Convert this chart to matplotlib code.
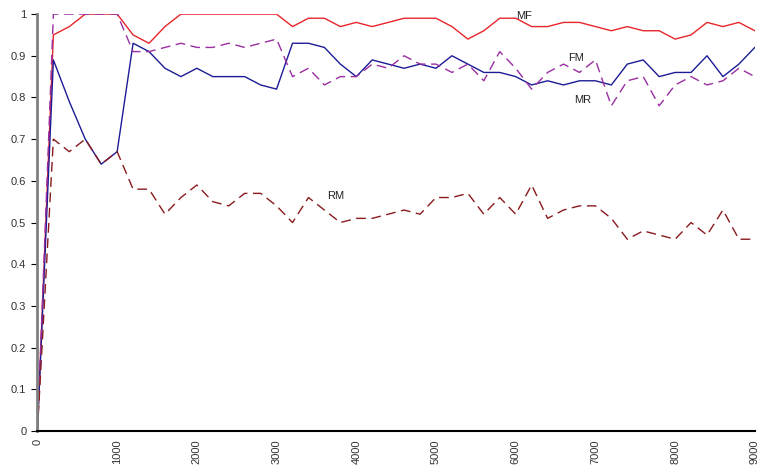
import matplotlib
matplotlib.use('Agg')
import matplotlib.pyplot as plt
import numpy as np

# x values: 0..9000 step 200
x = list(range(0, 9001, 200))

mf = [0, 0.95, 0.97, 1, 1, 1, 0.95, 0.93, 0.97, 1,
      1, 1, 1, 1, 1, 1, 0.97, 0.99, 0.99, 0.97,
      0.98, 0.97, 0.98, 0.99, 0.99, 0.99, 0.97, 0.94, 0.96, 0.99,
      0.99, 0.97, 0.97, 0.98, 0.98, 0.97, 0.96, 0.97, 0.96, 0.96,
      0.94, 0.95, 0.98, 0.97, 0.98, 0.96]
mr = [0, 0.89, 0.79, 0.70, 0.64, 0.67, 0.93, 0.91, 0.87, 0.85,
      0.87, 0.85, 0.85, 0.85, 0.83, 0.82, 0.93, 0.93, 0.92, 0.88,
      0.85, 0.89, 0.88, 0.87, 0.88, 0.87, 0.90, 0.88, 0.86, 0.86,
      0.85, 0.83, 0.84, 0.83, 0.84, 0.84, 0.83, 0.88, 0.89, 0.85,
      0.86, 0.86, 0.90, 0.85, 0.88, 0.92]
fm = [0, 1, 1, 1, 1, 1, 0.91, 0.91, 0.92, 0.93,
      0.92, 0.92, 0.93, 0.92, 0.93, 0.94, 0.85, 0.87, 0.83, 0.85,
      0.85, 0.88, 0.87, 0.90, 0.88, 0.88, 0.86, 0.88, 0.84, 0.91,
      0.87, 0.82, 0.86, 0.88, 0.86, 0.89, 0.78, 0.84, 0.85, 0.78,
      0.83, 0.85, 0.83, 0.84, 0.87, 0.85]
rm = [0, 0.70, 0.67, 0.70, 0.64, 0.67, 0.58, 0.58, 0.52, 0.56,
      0.59, 0.55, 0.54, 0.57, 0.57, 0.54, 0.50, 0.56, 0.53, 0.50,
      0.51, 0.51, 0.52, 0.53, 0.52, 0.56, 0.56, 0.57, 0.52, 0.56,
      0.52, 0.59, 0.51, 0.53, 0.54, 0.54, 0.51, 0.46, 0.48, 0.47,
      0.46, 0.50, 0.47, 0.53, 0.46, 0.46]

labels = ['MF', 'FM', 'MR', 'RM']
label_pos = [(6110, 0.995), (6760, 0.895), (6845, 0.794), (3745, 0.563)]

plt.rcParams['font.family'] = ['Liberation Sans', 'DejaVu Sans']

fig = plt.figure(figsize=(7.64, 4.69), dpi=100)
ax = fig.add_axes([0.049, 0.081, 0.939, 0.889])

ax.plot(x, mf, color='#e8252b', lw=1.0)
ax.plot(x, mr, color='#1c1c96', lw=1.0)
ax.plot(x, fm, color='#9a2ea2', lw=1.0, dashes=(7, 4))
ax.plot(x, rm, color='#8a1a1e', lw=1.0, dashes=(7, 4))

for lab, (lx, ly) in zip(labels, label_pos):
    ax.text(lx, ly, lab, fontsize=8, color='#222222', ha='center', va='center')

ax.set_xlim(0, 9000)
ax.set_ylim(0, 1)
ax.set_yticks(np.arange(0, 1.01, 0.1))
ax.set_yticklabels(['0', '0.1', '0.2', '0.3', '0.4', '0.5', '0.6', '0.7', '0.8', '0.9', '1'])
ax.set_xticks(range(0, 9001, 1000))
ax.tick_params(axis='x', length=0, labelrotation=90, labelsize=8, labelcolor='#333333', pad=6)
ax.tick_params(axis='y', length=4, width=0.8, labelsize=8, labelcolor='#333333', pad=4)

ax.spines['top'].set_visible(False)
ax.spines['right'].set_visible(False)
ax.spines['left'].set_color('#808080')
ax.spines['left'].set_linewidth(2)
ax.spines['bottom'].set_color('black')
ax.spines['bottom'].set_linewidth(1.5)

plt.savefig('out.png', dpi=100)
